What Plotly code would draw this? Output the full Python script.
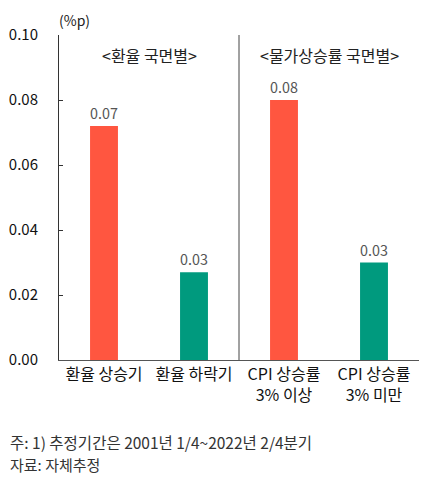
import plotly.graph_objects as go

categories = ["환율 상승기", "환율 하락기", "CPI 상승률<br>3% 이상", "CPI 상승률<br>3% 미만"]
values = [0.072, 0.027, 0.080, 0.030]
value_labels = ["0.07", "0.03", "0.08", "0.03"]
colors = ["#FF5640", "#009A7E", "#FF5640", "#009A7E"]
group_titles = ["<환율 국면별>", "<물가상승률 국면별>"]
y_ticks = [0, 0.02, 0.04, 0.06, 0.08, 0.10]

font = "Noto Sans CJK KR"

fig = go.Figure()
fig.add_trace(go.Bar(
    x=categories, y=values,
    marker=dict(color=colors, line=dict(width=0)),
    width=0.31,
    text=value_labels, textposition="outside",
    textfont=dict(size=15, color="#555555", family=font),
    cliponaxis=False,
))

# divider between the two groups
fig.add_shape(type="line", xref="x", yref="y", x0=1.5, x1=1.5, y0=0, y1=0.1,
              line=dict(color="#444444", width=1))

fig.add_annotation(x=0.5, y=0.0938, xref="x", yref="y", text=group_titles[0],
                   showarrow=False, font=dict(size=16, color="#222222", family=font))
fig.add_annotation(x=2.5, y=0.0938, xref="x", yref="y", text=group_titles[1],
                   showarrow=False, font=dict(size=16, color="#222222", family=font))

fig.add_annotation(x=-0.005, y=1.0, xref="paper", yref="paper", xanchor="left", yanchor="middle",
                   yshift=15, text="(%p)", showarrow=False,
                   font=dict(size=14, color="#222222", family=font))

fig.add_annotation(x=-0.142, y=-0.253, xref="paper", yref="paper", xanchor="left", yanchor="middle",
                   text="주: 1) 추정기간은 2001년 1/4~2022년 2/4분기", showarrow=False,
                   font=dict(size=15.5, color="#333333", family=font))
fig.add_annotation(x=-0.142, y=-0.321, xref="paper", yref="paper", xanchor="left", yanchor="middle",
                   text="자료: 자체추정", showarrow=False,
                   font=dict(size=15, color="#333333", family=font))

fig.update_layout(
    width=420, height=466,
    margin=dict(l=51, r=9, t=27, b=114),
    paper_bgcolor="white", plot_bgcolor="white",
    showlegend=False,
    font=dict(family=font, color="#111111"),
)
fig.update_xaxes(
    showline=True, linecolor="#555555", linewidth=1,
    ticks="", tickfont=dict(size=16, color="#111111", family=font),
    range=[-0.5, 3.5], automargin=False,
)
fig.update_yaxes(
    range=[0, 0.1], tickvals=y_ticks, tickformat=".2f",
    showgrid=False, zeroline=False,
    showline=True, linecolor="#333333", linewidth=1,
    ticks="inside", ticklen=4, tickcolor="#333333",
    tickfont=dict(size=15, color="#111111", family=font),
    ticklabelstandoff=17, automargin=False,
)

fig.write_html("out.html")
